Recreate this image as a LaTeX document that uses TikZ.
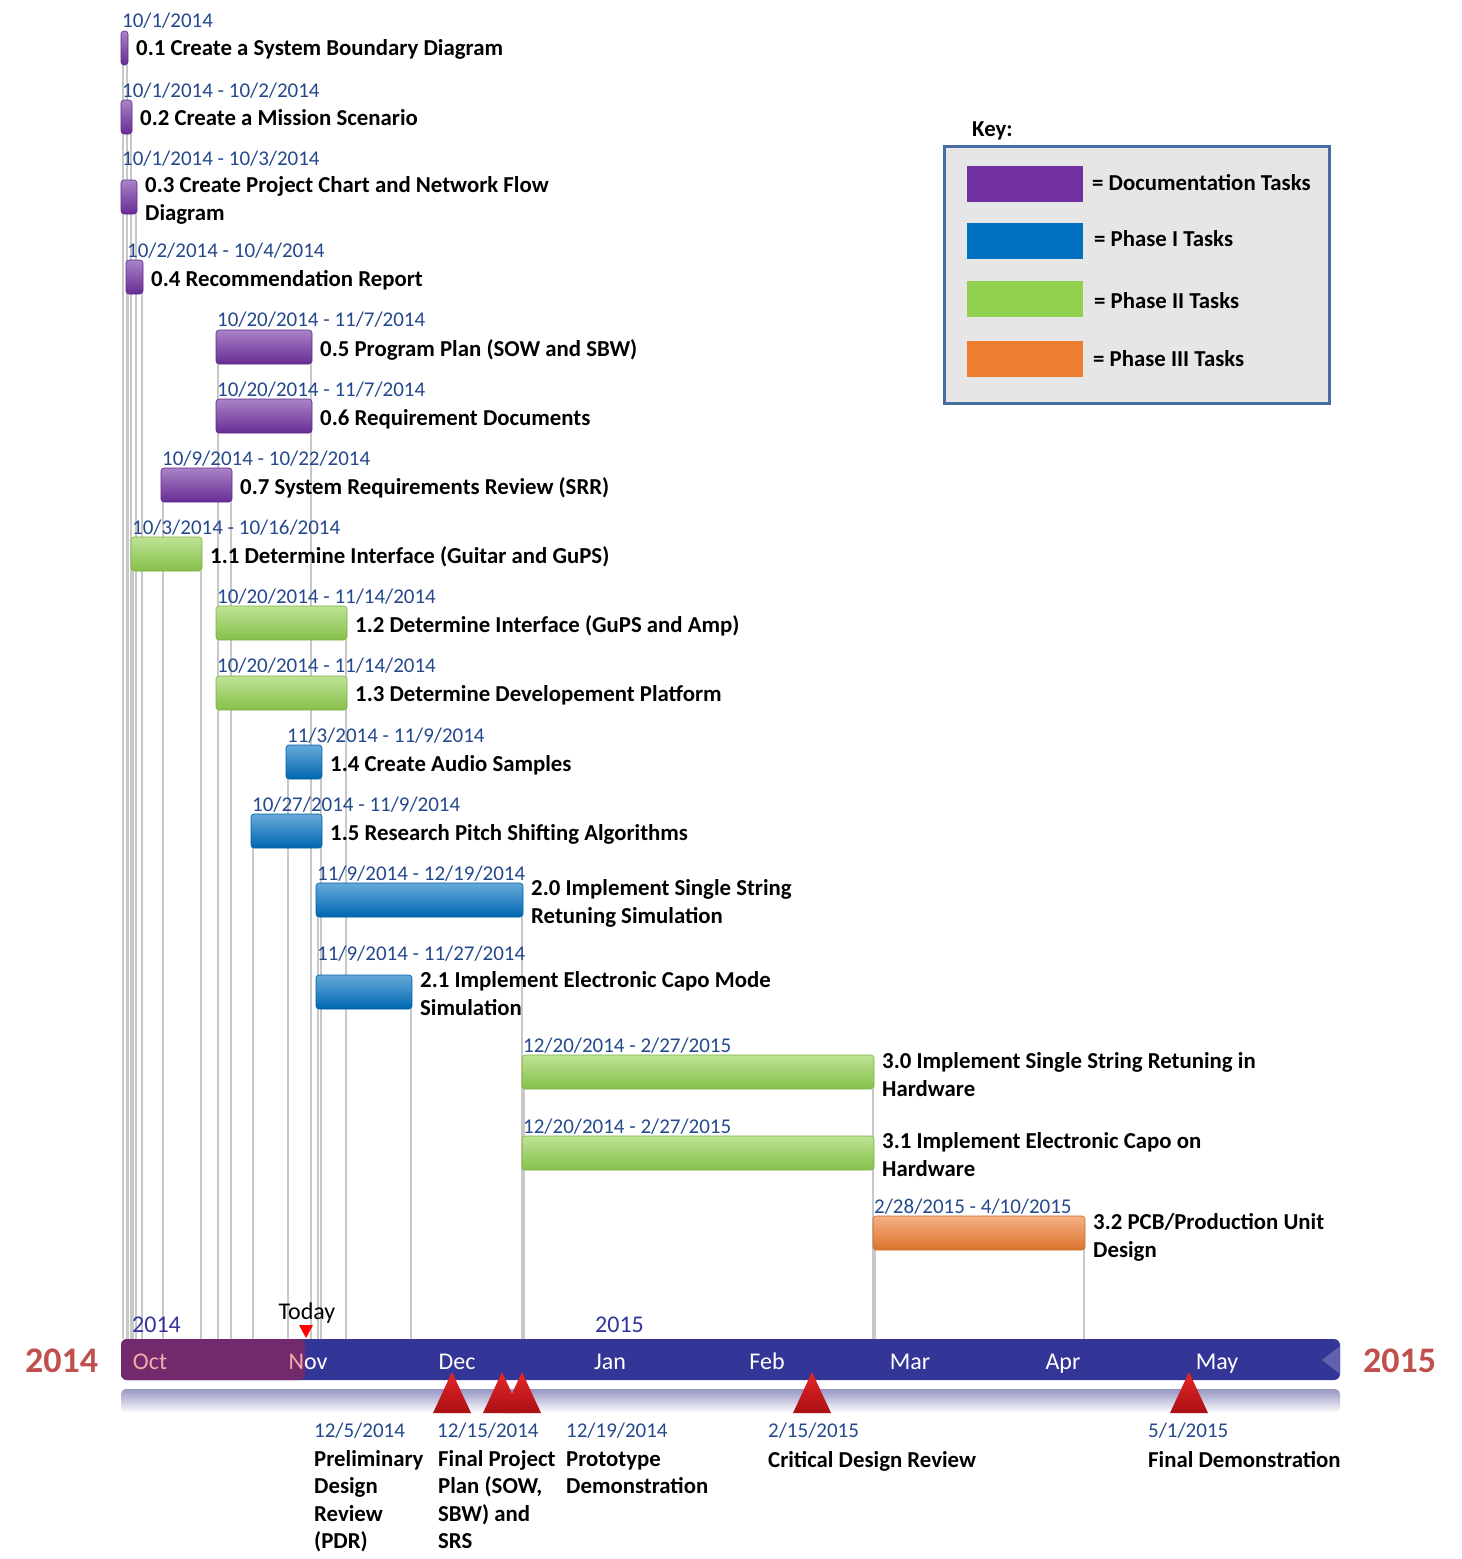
\documentclass[tikz,border=0pt]{standalone}
\usepackage{fontspec}
\setmainfont{Carlito}
\usetikzlibrary{calc}
\pgfdeclarelayer{bg}
\pgfsetlayers{bg,main}
\definecolor{docc}{RGB}{112,48,160}
\definecolor{ph1}{RGB}{0,112,192}
\definecolor{ph2}{RGB}{146,208,80}
\definecolor{ph3}{RGB}{237,125,49}
\definecolor{datec}{RGB}{36,72,140}
\definecolor{gridc}{RGB}{200,200,200}
\definecolor{tlc}{RGB}{51,54,150}
\definecolor{ovc}{RGB}{115,42,108}
\definecolor{yearc}{RGB}{192,80,77}
\definecolor{yblue}{RGB}{51,51,160}
\definecolor{pinkc}{RGB}{245,170,170}
\definecolor{keyfill}{RGB}{230,230,230}
\definecolor{keyline}{RGB}{70,110,160}
\definecolor{mstop}{RGB}{230,40,40}
\definecolor{msbot}{RGB}{170,15,20}
\newcommand\fsz[2]{\fontsize{#1}{#2}\selectfont}
\newcommand\two[2]{\begin{tabular}[t]{@{}l@{}}#1\\#2\end{tabular}}
\newcommand\gtask[9]{%
  \node[taskbar, minimum width={#4-#3}, top color=#2!60!white, middle color=#2, bottom color=#2!92!black, draw=#2!85!black] (#1) at (#3,#5) {};
  \node[datelbl] (#1d) at (#3+1,#6) {#7};
  \node[tasklbl] (#1l) at (#4+8,#8) {#9};
  \begin{pgfonlayer}{bg}
    \draw[gridline] ([xshift=2]#1.south west) -- ([xshift=2]#1.south west |- tl.north);
    \draw[gridline] ([xshift=-1]#1.south east) -- ([xshift=-1]#1.south east |- tl.north);
  \end{pgfonlayer}
}
\tikzset{
  taskbar/.style={rectangle, rounded corners=3, minimum height=34, inner sep=0, outer sep=0, anchor=north west, line width=0.6},
  datelbl/.style={anchor=base west, inner sep=0, text=datec, font=\fsz{21}{25}},
  tasklbl/.style={anchor=base west, inner sep=0, font=\fsz{22.8}{28}\bfseries},
  gridline/.style={draw=gridc, line width=2},
  month/.style={anchor=base, inner sep=0, text=white, font=\fsz{24}{28}},
  bigyear/.style={anchor=base west, inner sep=0, text=yearc, font=\fsz{36}{40}\bfseries},
  smallyear/.style={anchor=base west, inner sep=0, text=yblue, font=\fsz{24}{28}},
  mslbl/.style={anchor=base west, inner sep=0, font=\fsz{22.8}{27.5}\bfseries},
  mstri/.style={top color=mstop, bottom color=msbot},
  keytxt/.style={anchor=base west, inner sep=0, font=\fsz{22.8}{28}\bfseries},
  swatch/.style={rectangle, anchor=north west, inner sep=0, outer sep=0, minimum width=116, minimum height=36}
}
\begin{document}
\begin{tikzpicture}[x=1pt,y=-1pt]
\useasboundingbox (0,0) rectangle (1462,1559);
% timeline
\node[rectangle, rounded corners=6, fill=tlc, minimum width=1219, minimum height=41, anchor=north west, inner sep=0, outer sep=0] (tl) at (121,1339) {};
\fill[tlc!78!white] (1340,1346) -- (1322,1360) -- (1340,1374) -- cycle;
\node[rectangle, rounded corners=6, fill=ovc, minimum width=184, minimum height=41, anchor=north west, inner sep=0, outer sep=0] (past) at (121,1339) {};
\node[rectangle, rounded corners=5, top color={rgb,255:red,150;green,150;blue,195}, bottom color=white, minimum width=1219, minimum height=24, anchor=north west, inner sep=0, outer sep=0] (refl) at (121,1389) {};
% months
\node[month, text=pinkc] (mOct) at (150,1369) {Oct};
\node[month] (mNov) at (308,1369) {{\color{pinkc}N}ov};
\node[month] (mDec) at (457,1369) {Dec};
\node[month] (mJan) at (610,1369) {Jan};
\node[month] (mFeb) at (767,1369) {Feb};
\node[month] (mMar) at (910,1369) {Mar};
\node[month] (mApr) at (1063,1369) {Apr};
\node[month] (mMay) at (1217,1369) {May};
% years
\node[bigyear] (y14) at (25,1372) {2014};
\node[bigyear] (y15) at (1363,1372) {2015};
\node[smallyear] (s14) at (132,1332) {2014};
\node[smallyear] (s15) at (595,1332) {2015};
% today
\node[anchor=base, inner sep=0, font=\fsz{24}{28}] (today) at (307,1319) {Today};
\coordinate (tdy) at (306,1338);
\fill[red] (tdy) -- ++(-7,-13) -- ++(14,0) -- cycle;
% tasks
\gtask{t01}{docc}{121}{128}{31}{27}{10/1/2014}{55}{0.1 Create a System Boundary Diagram}
\gtask{t02}{docc}{121}{132}{100}{97}{10/1/2014 - 10/2/2014}{125}{0.2 Create a Mission Scenario}
\gtask{t03}{docc}{121}{137}{180}{165}{10/1/2014 - 10/3/2014}{192}{\two{0.3 Create Project Chart and Network Flow}{Diagram}}
\gtask{t04}{docc}{126}{143}{260}{257}{10/2/2014 - 10/4/2014}{286}{0.4 Recommendation Report}
\gtask{t05}{docc}{216}{312}{330}{326}{10/20/2014 - 11/7/2014}{356}{0.5 Program Plan (SOW and SBW)}
\gtask{t06}{docc}{216}{312}{399}{396}{10/20/2014 - 11/7/2014}{425}{0.6 Requirement Documents}
\gtask{t07}{docc}{161}{232}{468}{465}{10/9/2014 - 10/22/2014}{494}{0.7 System Requirements Review (SRR)}
\gtask{t11}{ph2}{131}{202}{537}{534}{10/3/2014 - 10/16/2014}{563}{1.1 Determine Interface (Guitar and GuPS)}
\gtask{t12}{ph2}{216}{347}{606}{603}{10/20/2014 - 11/14/2014}{632}{1.2 Determine Interface (GuPS and Amp)}
\gtask{t13}{ph2}{216}{347}{676}{672}{10/20/2014 - 11/14/2014}{701}{1.3 Determine Developement Platform}
\gtask{t14}{ph1}{286}{322}{745}{742}{11/3/2014 - 11/9/2014}{771}{1.4 Create Audio Samples}
\gtask{t15}{ph1}{251}{322}{814}{811}{10/27/2014 - 11/9/2014}{840}{1.5 Research Pitch Shifting Algorithms}
\gtask{t20}{ph1}{316}{523}{883}{880}{11/9/2014 - 12/19/2014}{895}{\two{2.0 Implement Single String}{Retuning Simulation}}
\gtask{t21}{ph1}{316}{412}{975}{960}{11/9/2014 - 11/27/2014}{987}{\two{2.1 Implement Electronic Capo Mode}{Simulation}}
\gtask{t30}{ph2}{522}{874}{1055}{1052}{12/20/2014 - 2/27/2015}{1068}{\two{3.0 Implement Single String Retuning in}{Hardware}}
\gtask{t31}{ph2}{522}{874}{1136}{1133}{12/20/2014 - 2/27/2015}{1148}{\two{3.1 Implement Electronic Capo on}{Hardware}}
\gtask{t32}{ph3}{873}{1085}{1216}{1213}{2/28/2015 - 4/10/2015}{1229}{\two{3.2 PCB/Production Unit}{Design}}
% milestones
\coordinate (ms1) at (452,1372);
\coordinate (ms2) at (502,1372);
\coordinate (ms3) at (522,1372);
\coordinate (ms4) at (812,1372);
\coordinate (ms5) at (1189,1372);
\foreach \m in {ms1,ms2,ms3,ms4,ms5}{
  \shade[mstri] (\m) -- ++(-19,41) -- ++(38,0) -- cycle;
}
\node[datelbl] (ms1d) at (314,1437) {12/5/2014};
\node[mslbl] (ms1l) at (314,1466) {\begin{tabular}[t]{@{}l@{}}Preliminary\\Design\\Review\\(PDR)\end{tabular}};
\node[datelbl] (ms2d) at (437,1437) {12/15/2014};
\node[mslbl] (ms2l) at (438,1466) {\begin{tabular}[t]{@{}l@{}}Final Project\\Plan (SOW,\\SBW) and\\SRS\end{tabular}};
\node[datelbl] (ms3d) at (566,1437) {12/19/2014};
\node[mslbl] (ms3l) at (566,1466) {\begin{tabular}[t]{@{}l@{}}Prototype\\Demonstration\end{tabular}};
\node[datelbl] (ms4d) at (768,1437) {2/15/2015};
\node[mslbl] (ms4l) at (768,1467) {Critical Design Review};
\node[datelbl] (ms5d) at (1148,1437) {5/1/2015};
\node[mslbl] (ms5l) at (1148,1467) {Final Demonstration};
% key
\node[keytxt] (keyt) at (972,136) {Key:};
\node[rectangle, anchor=north west, fill=keyfill, draw=keyline, line width=2.5, minimum width=385, minimum height=257, inner sep=0] (key) at (943,145) {};
\node[swatch, fill=docc] (kd) at (967,166) {};
\node[swatch, fill=ph1] (k1) at (967,223) {};
\node[swatch, fill=ph2] (k2) at (967,281) {};
\node[swatch, fill=ph3] (k3) at (967,341) {};
\node[keytxt] (kdt) at (1092,190) {= Documentation Tasks};
\node[keytxt] (k1t) at (1094,246) {= Phase I Tasks};
\node[keytxt] (k2t) at (1094,308) {= Phase II Tasks};
\node[keytxt] (k3t) at (1093,366) {= Phase III Tasks};
\end{tikzpicture}
\end{document}
